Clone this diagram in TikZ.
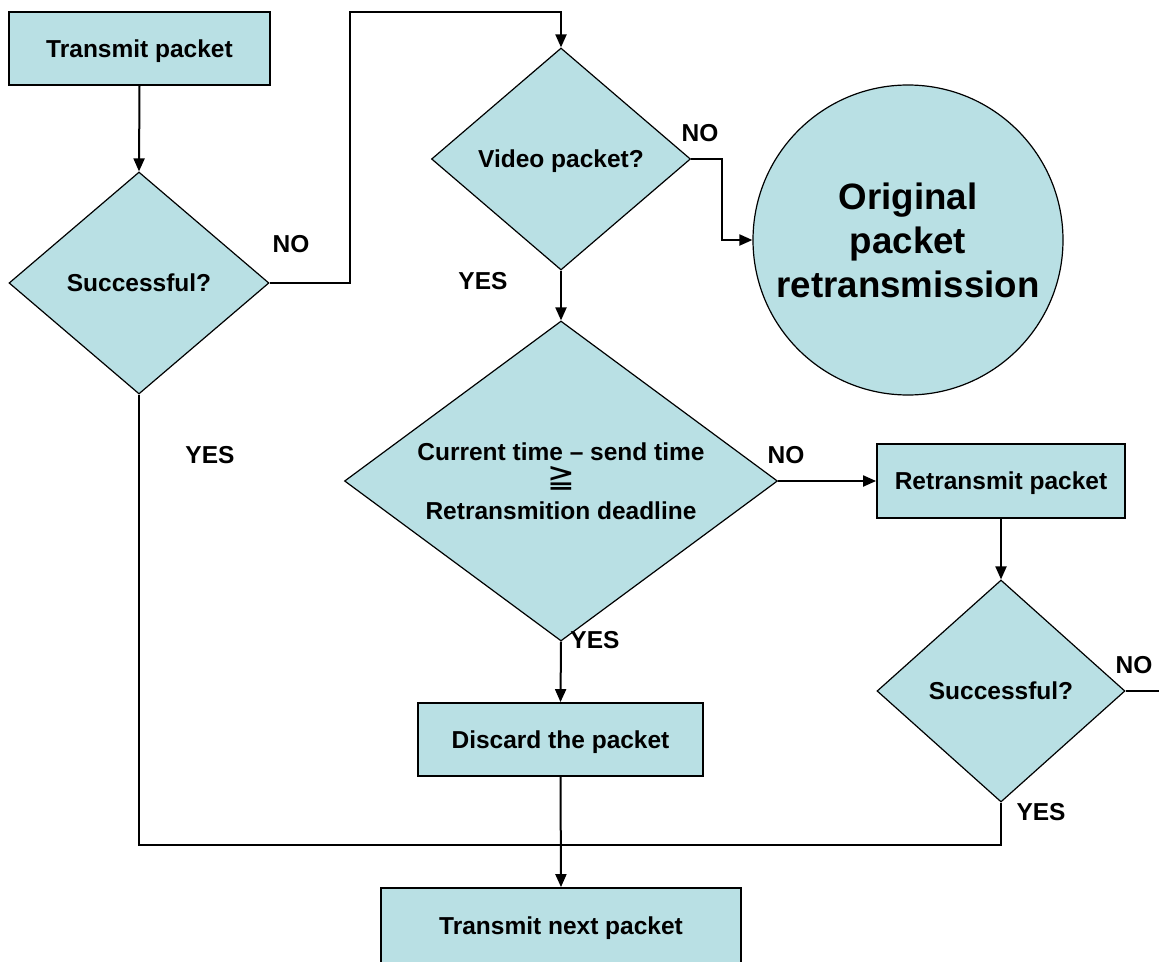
\documentclass[tikz,border=0pt]{standalone}
\usepackage{fontspec}
\setmainfont{Liberation Sans}
\newfontfamily\symfont{DejaVu Sans}
\usetikzlibrary{shapes.geometric,arrows.meta}
\definecolor{boxfill}{RGB}{185,224,228}
\begin{document}
\begin{tikzpicture}[x=1pt,y=-1pt,
  every node/.style={font=\bfseries\fontsize{24.5}{29.4}\selectfont, text=black},
  procbox/.style={draw=black, line width=1.8pt, fill=boxfill, rectangle, inner sep=0pt, align=center, text depth=0pt},
  decide/.style={draw=black, line width=1.2pt, fill=boxfill, diamond, inner sep=0pt, align=center, aspect=1.2, text depth=0pt},
  endcircle/.style={draw=black, line width=1.2pt, fill=boxfill, circle, inner sep=0pt, align=center,
    font=\bfseries\fontsize{36.7}{44}\selectfont},
  link/.style={line width=2pt, draw=black},
  arrowlink/.style={link, -{Triangle[length=13pt,width=11pt]}},
  lbl/.style={inner sep=0pt}
]
\clip (0,0) rectangle (1159,961);
\fill[white] (0,0) rectangle (1159,961);

% process boxes
\node[procbox, minimum width=261, minimum height=73] (tp) at (139.5,48.5) {Transmit packet};
\node[procbox, minimum width=248, minimum height=74] (rt) at (1001,481) {Retransmit packet};
\node[procbox, minimum width=285, minimum height=73] (disc) at (560.5,739.5) {Discard the packet};
\node[procbox, minimum width=360, minimum height=76] (next) at (561,926) {Transmit next packet};

% decisions
\node[decide, minimum width=260, minimum height=222] (s1) at (139,283) {Successful?};
\node[decide, minimum width=259, minimum height=222] (vid) at (561,159) {Video packet?};
\node[decide, minimum width=433, minimum height=320, aspect=1.35] (big) at (561,481)
  {Current time -- send time\\{\symfont\mdseries\fontsize{33}{29.4}\selectfont\raisebox{2pt}{≧}}\\Retransmition deadline};
\node[decide, minimum width=248, minimum height=222] (s2) at (1001,691) {Successful?};

% terminal
\node[endcircle, minimum size=310] (orig) at (908,240) {Original\\packet\\retransmission};

% junction points
\coordinate (topcorner) at (350,12);
\coordinate (merge) at (561,845);
\coordinate (offright) at (1162,691);

% connectors
\draw[arrowlink] (tp.south) -- (s1.north);
\draw[arrowlink] (s1.east) -| (topcorner) -| (vid.north);
\draw[arrowlink] (vid.east) -- ++(31,0) |- (orig.west);
\draw[arrowlink] (vid.south) -- (big.north);
\draw[arrowlink] (big.east) -- (rt.west);
\draw[arrowlink] (rt.south) -- (s2.north);
\draw[link] (s2.east) -- (offright);
\draw[arrowlink] (big.south) -- (disc.north);
\draw[link] (s1.south) |- (merge);
\draw[link] (s2.south) |- (merge);
\draw[arrowlink] (disc.south) -- (next.north);

% branch labels
\node[lbl] (l1) at (291,244) {NO};
\node[lbl] (l2) at (700,133) {NO};
\node[lbl] (l3) at (483,281) {YES};
\node[lbl] (l4) at (210,455) {YES};
\node[lbl] (l5) at (786,455) {NO};
\node[lbl] (l6) at (595,640) {YES};
\node[lbl] (l7) at (1134,665) {NO};
\node[lbl] (l8) at (1041,812) {YES};
\end{tikzpicture}
\end{document}
